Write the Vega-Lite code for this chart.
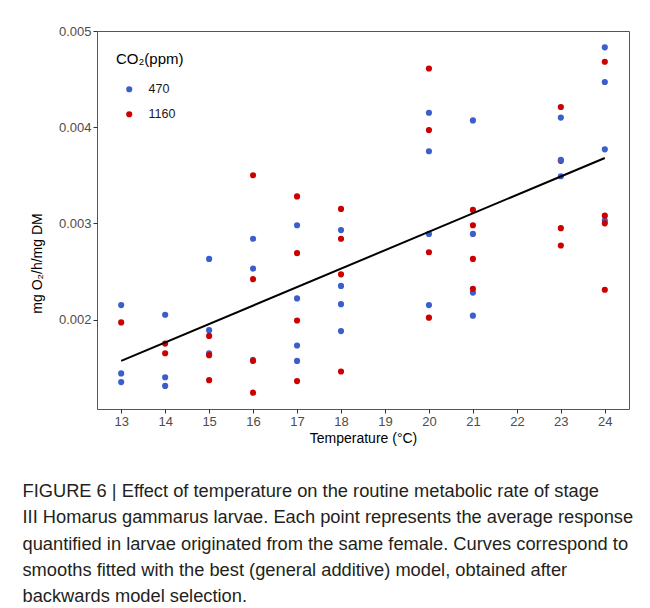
{
  "$schema": "https://vega.github.io/schema/vega-lite/v6.json",
  "autosize": "none",
  "width": 532,
  "height": 378,
  "padding": {"left": 97, "top": 31, "right": 21, "bottom": 199},
  "background": "white",
  "title": {
    "text": [
      "FIGURE 6 | Effect of temperature on the routine metabolic rate of stage",
      "III Homarus gammarus larvae. Each point represents the average response",
      "quantified in larvae originated from the same female. Curves correspond to",
      "smooths fitted with the best (general additive) model, obtained after",
      "backwards model selection."
    ],
    "orient": "bottom",
    "anchor": "start",
    "frame": "bounds",
    "dx": -8,
    "offset": 38,
    "font": "Liberation Sans",
    "fontSize": 18.3,
    "fontWeight": "normal",
    "lineHeight": 26.3,
    "color": "#231f20"
  },
  "config": {
    "view": {"stroke": "#555555", "strokeWidth": 1},
    "font": "Liberation Sans",
    "axis": {
      "grid": false,
      "domain": false,
      "tickColor": "#333333",
      "tickSize": 4,
      "labelColor": "#4D4D4D",
      "labelFontSize": 13,
      "labelFont": "Liberation Sans",
      "titleFont": "Liberation Sans",
      "titleFontSize": 14,
      "titleFontWeight": "normal",
      "titleColor": "#000000"
    }
  },
  "datasets": {
    "pts": [
      {"t": 13, "co2": "470", "v": 0.00215},
      {"t": 13, "co2": "1160", "v": 0.00197},
      {"t": 13, "co2": "470", "v": 0.00144},
      {"t": 13, "co2": "470", "v": 0.00135},
      {"t": 14, "co2": "470", "v": 0.00205},
      {"t": 14, "co2": "1160", "v": 0.00175},
      {"t": 14, "co2": "1160", "v": 0.00165},
      {"t": 14, "co2": "470", "v": 0.0014},
      {"t": 14, "co2": "470", "v": 0.00131},
      {"t": 15, "co2": "470", "v": 0.00263},
      {"t": 15, "co2": "470", "v": 0.00189},
      {"t": 15, "co2": "1160", "v": 0.00183},
      {"t": 15, "co2": "470", "v": 0.00165},
      {"t": 15, "co2": "1160", "v": 0.00163},
      {"t": 15, "co2": "1160", "v": 0.00137},
      {"t": 16, "co2": "1160", "v": 0.0035},
      {"t": 16, "co2": "470", "v": 0.00284},
      {"t": 16, "co2": "470", "v": 0.00253},
      {"t": 16, "co2": "1160", "v": 0.00242},
      {"t": 16, "co2": "470", "v": 0.00158},
      {"t": 16, "co2": "1160", "v": 0.00157},
      {"t": 16, "co2": "1160", "v": 0.00124},
      {"t": 17, "co2": "1160", "v": 0.00328},
      {"t": 17, "co2": "470", "v": 0.00298},
      {"t": 17, "co2": "1160", "v": 0.00269},
      {"t": 17, "co2": "470", "v": 0.00222},
      {"t": 17, "co2": "1160", "v": 0.00199},
      {"t": 17, "co2": "470", "v": 0.00173},
      {"t": 17, "co2": "470", "v": 0.00157},
      {"t": 17, "co2": "1160", "v": 0.00136},
      {"t": 18, "co2": "1160", "v": 0.00315},
      {"t": 18, "co2": "470", "v": 0.00293},
      {"t": 18, "co2": "1160", "v": 0.00284},
      {"t": 18, "co2": "1160", "v": 0.00247},
      {"t": 18, "co2": "470", "v": 0.00235},
      {"t": 18, "co2": "470", "v": 0.00216},
      {"t": 18, "co2": "470", "v": 0.00188},
      {"t": 18, "co2": "1160", "v": 0.00146},
      {"t": 20, "co2": "1160", "v": 0.00461},
      {"t": 20, "co2": "470", "v": 0.00415},
      {"t": 20, "co2": "1160", "v": 0.00397},
      {"t": 20, "co2": "470", "v": 0.00375},
      {"t": 20, "co2": "470", "v": 0.00289},
      {"t": 20, "co2": "1160", "v": 0.0027},
      {"t": 20, "co2": "470", "v": 0.00215},
      {"t": 20, "co2": "1160", "v": 0.00202},
      {"t": 21, "co2": "470", "v": 0.00407},
      {"t": 21, "co2": "1160", "v": 0.00314},
      {"t": 21, "co2": "1160", "v": 0.00298},
      {"t": 21, "co2": "470", "v": 0.00289},
      {"t": 21, "co2": "1160", "v": 0.00263},
      {"t": 21, "co2": "470", "v": 0.00228},
      {"t": 21, "co2": "1160", "v": 0.00232},
      {"t": 21, "co2": "470", "v": 0.00204},
      {"t": 23, "co2": "1160", "v": 0.00421},
      {"t": 23, "co2": "470", "v": 0.0041},
      {"t": 23, "co2": "1160", "v": 0.00365},
      {"t": 23, "co2": "470", "v": 0.00366},
      {"t": 23, "co2": "470", "v": 0.00349},
      {"t": 23, "co2": "1160", "v": 0.00295},
      {"t": 23, "co2": "1160", "v": 0.00277},
      {"t": 24, "co2": "470", "v": 0.00483},
      {"t": 24, "co2": "1160", "v": 0.00468},
      {"t": 24, "co2": "470", "v": 0.00447},
      {"t": 24, "co2": "470", "v": 0.00377},
      {"t": 24, "co2": "470", "v": 0.00303},
      {"t": 24, "co2": "1160", "v": 0.00308},
      {"t": 24, "co2": "1160", "v": 0.003},
      {"t": 24, "co2": "1160", "v": 0.00231}
    ],
    "fit": [
      {"t": 13, "v": 0.00157},
      {"t": 24, "v": 0.00368}
    ]
  },
  "layer": [
    {
      "data": {"name": "pts"},
      "mark": {"type": "point", "filled": true, "shape": "circle", "size": 38, "opacity": 1},
      "encoding": {
        "x": {
          "field": "t", "type": "quantitative",
          "scale": {"domain": [12.45, 24.55], "nice": false, "zero": false},
          "axis": {"title": "Temperature (°C)", "values": [13,14,15,16,17,18,19,20,21,22,23,24], "format": "d", "labelPadding": 2, "titlePadding": 3}
        },
        "y": {
          "field": "v", "type": "quantitative",
          "scale": {"domain": [0.00107, 0.005], "nice": false, "zero": false},
          "axis": {"title": "mg O₂/h/mg DM", "values": [0.002, 0.003, 0.004, 0.005], "format": ".3f", "labelPadding": 2, "titlePadding": 14, "titleY": 232}
        },
        "color": {
          "field": "co2", "type": "nominal",
          "scale": {"domain": ["470", "1160"], "range": ["#3A5FCD", "#CD0000"]},
          "legend": {
            "title": "CO₂(ppm)",
            "orient": "none",
            "legendX": 19,
            "legendY": 21,
            "titleFontSize": 15,
            "titleFontWeight": "normal",
            "titleColor": "#000000",
            "titlePadding": 16,
            "labelFontSize": 12.5,
            "labelColor": "#1a1a1a",
            "symbolType": "circle",
            "symbolSize": 38,
            "symbolOffset": 7,
            "labelOffset": 13,
            "rowPadding": 12
          }
        }
      }
    },
    {
      "data": {"name": "fit"},
      "mark": {"type": "line", "color": "#000000", "strokeWidth": 2},
      "encoding": {
        "x": {"field": "t", "type": "quantitative"},
        "y": {"field": "v", "type": "quantitative"}
      }
    }
  ]
}
